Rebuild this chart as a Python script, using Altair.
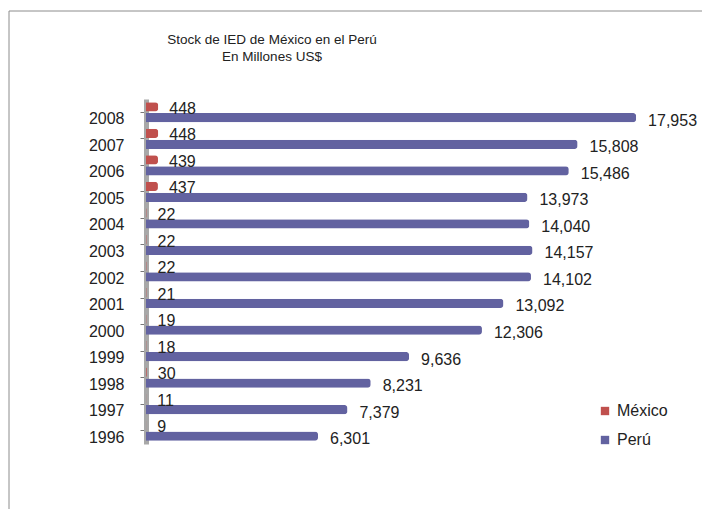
import altair as alt
import pandas as pd

years = [2008, 2007, 2006, 2005, 2004, 2003, 2002, 2001, 2000, 1999, 1998, 1997, 1996]
mexico = [448, 448, 439, 437, 22, 22, 22, 21, 19, 18, 30, 11, 9]
peru = [17953, 15808, 15486, 13973, 14040, 14157, 14102, 13092, 12306, 9636, 8231, 7379, 6301]
series = ["México", "Perú"]
colors = ["#C0504D", "#6262A0"]
title_lines = ["Stock de  IED de México en el Perú", "En Millones US$"]

rows = []
for y, m, p in zip(years, mexico, peru):
    rows.append({"year": str(y), "serie": "México", "value": m, "label": f"{m:,}"})
    rows.append({"year": str(y), "serie": "Perú", "value": p, "label": f"{p:,}"})
df = pd.DataFrame(rows)

year_order = [str(y) for y in years]
FONT = "Liberation Sans"

x = alt.X("value:Q", scale=alt.Scale(domain=[0, 20000], nice=False), axis=None)
y = alt.Y("year:N", sort=year_order,
          scale=alt.Scale(paddingInner=0.24, paddingOuter=0.12),
          axis=alt.Axis(title=None, labelFontSize=16, labelColor="#222222",
                        labelFont=FONT, labelPadding=16, labelOffset=7,
                        domainColor="#A8A8A8", domainWidth=5, tickColor="#777777",
                        tickSize=6, ticks=True))
yoff = alt.YOffset("serie:N", sort=series, scale=alt.Scale(paddingInner=0.15))
color = alt.Color("serie:N", sort=series,
                  scale=alt.Scale(domain=series, range=colors),
                  legend=alt.Legend(title=None, orient="none", legendX=451, legendY=304,
                                    symbolType="square", symbolSize=70, labelFontSize=16,
                                    labelFont=FONT, labelColor="#222222",
                                    rowPadding=13, symbolStrokeWidth=0))

base = alt.Chart(df)
bars = base.mark_bar(cornerRadiusEnd=3, stroke=None).encode(x=x, y=y, yOffset=yoff, color=color)
labels_mx = base.transform_filter(alt.datum.serie == "México").mark_text(
    align="left", baseline="middle", dx=11, dy=2, fontSize=16, font=FONT, color="#222222"
).encode(x=x, y=y, yOffset=yoff, text="label:N")
labels_pe = base.transform_filter(alt.datum.serie == "Perú").mark_text(
    align="left", baseline="middle", dx=12, dy=3, fontSize=16, font=FONT, color="#222222"
).encode(x=x, y=y, yOffset=yoff, text="label:N")

one = pd.DataFrame({"a": [0]})
frame_top = alt.Chart(one).mark_rule(color="#8C8C8C", strokeWidth=1).encode(
    x=alt.value(-137), x2=alt.value(560), y=alt.value(-88))
frame_left = alt.Chart(one).mark_rule(color="#8C8C8C", strokeWidth=1).encode(
    x=alt.value(-137), y=alt.value(-88), y2=alt.value(420))
title1 = alt.Chart(one).mark_text(fontSize=13.5, font=FONT, color="#222222", align="center",
                                  baseline="middle").encode(
    x=alt.value(126), y=alt.value(-59), text=alt.value(title_lines[0]))
title2 = alt.Chart(one).mark_text(fontSize=13.5, font=FONT, color="#222222", align="center",
                                  baseline="middle").encode(
    x=alt.value(126), y=alt.value(-42), text=alt.value(title_lines[1]))

chart = alt.layer(frame_top, frame_left, title1, title2, bars, labels_mx, labels_pe).properties(
    width=546, height=345,
    autosize=alt.AutoSizeParams(type="none"),
    padding={"left": 138, "top": 91, "right": 10, "bottom": 65},
).configure_view(stroke=None)

chart.save("out.html", embed_options={"renderer": "svg", "actions": False})
